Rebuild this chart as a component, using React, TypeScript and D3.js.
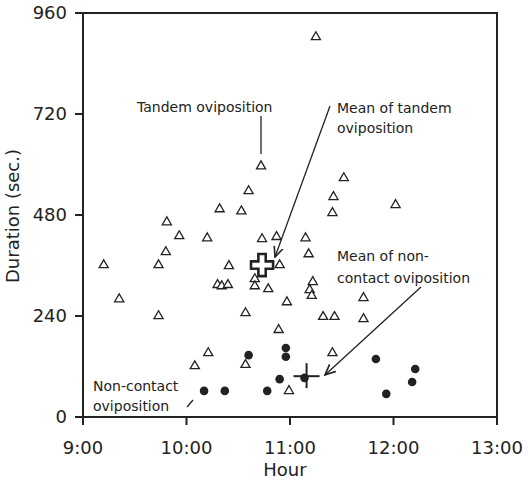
import React from 'react';
import * as d3 from 'd3';

// tandem oviposition: [hour, duration in sec.]
const tandemHours = [11.25, 10.72, 10.6, 10.32, 10.53, 9.81, 9.93, 10.2, 10.73, 10.87, 11.15, 11.18, 11.52, 11.42, 12.02, 11.41, 9.8, 9.2, 9.73, 10.41, 10.9, 10.3, 10.34, 10.4, 10.66, 10.66, 9.35, 9.73, 10.57, 10.79, 10.97, 10.89, 11.22, 11.19, 11.21, 11.32, 11.43, 11.71, 11.71, 11.41, 10.08, 10.21, 10.57, 10.99];
const tandemDurations = [903, 596, 537, 494, 489, 463, 430, 425, 423, 428, 425, 387, 568, 523, 504, 485, 392, 361, 361, 359, 361, 314, 311, 314, 328, 311, 280, 240, 247, 304, 273, 207, 321, 302, 288, 238, 238, 283, 233, 152, 121, 152, 124, 62];

// non-contact oviposition
const nonContactHours = [10.17, 10.37, 10.6, 10.96, 10.96, 10.9, 10.78, 11.14, 11.83, 11.93, 12.21, 12.18];
const nonContactDurations = [62, 62, 147, 164, 143, 90, 62, 93, 138, 55, 114, 83];

const tandemMean = [10.73, 361];
const nonContactMean = [11.16, 97];

const xTicks = [9, 10, 11, 12, 13];
const xTickLabels = ['9:00', '10:00', '11:00', '12:00', '13:00'];
const yTicks = [0, 240, 480, 720, 960];

const W = 528;
const H = 481;
const margin = { top: 13, right: 31, bottom: 64, left: 83 };
const ink = '#222';
const font = '"DejaVu Sans", sans-serif';

export default function App() {
  const x = d3.scaleLinear().domain([9, 13]).range([margin.left, W - margin.right]);
  const y = d3.scaleLinear().domain([0, 960]).range([H - margin.bottom, margin.top]);

  const triangle = d3.symbol(d3.symbolTriangle, 36)();
  const bigCross = d3.symbol(d3.symbolCross, 270)();

  const bottom = H - margin.bottom;

  return (
    <svg width={W} height={H} style={{ position: 'absolute', left: 0, top: 0, background: '#fff' }} fontFamily={font}>
      <defs>
        <marker id="arrow" viewBox="0 0 10 10" refX="9" refY="5" markerWidth="9" markerHeight="9" orient="auto">
          <path d="M0,1 L9,5 L0,9" fill="none" stroke={ink} strokeWidth="1.4" />
        </marker>
      </defs>

      {/* frame */}
      <rect x={margin.left} y={margin.top} width={W - margin.left - margin.right} height={bottom - margin.top}
        fill="none" stroke={ink} strokeWidth={2} />

      {/* y axis */}
      {yTicks.map(t => (
        <g key={'y' + t}>
          <line x1={margin.left - 8} x2={margin.left} y1={y(t)} y2={y(t)} stroke={ink} strokeWidth={2} />
          <text x={margin.left - 16} y={y(t)} dy="0.36em" textAnchor="end" fontSize={18} fill={ink}>{t}</text>
        </g>
      ))}

      {/* x axis */}
      {xTicks.map((t, i) => (
        <g key={'x' + t}>
          <line x1={x(t)} x2={x(t)} y1={bottom} y2={bottom + 8} stroke={ink} strokeWidth={2} />
          <text x={x(t)} y={bottom + 37} textAnchor="middle" fontSize={18} fill={ink}>{xTickLabels[i]}</text>
        </g>
      ))}

      <text x={285} y={476} textAnchor="middle" fontSize={18} fill={ink}>Hour</text>
      <text transform="translate(19,216) rotate(-90)" textAnchor="middle" fontSize={18} fill={ink}>Duration (sec.)</text>

      {/* annotations */}
      <text x={137} y={112} fontSize={14} fill={ink}>Tandem oviposition</text>
      <line x1={261} x2={261} y1={116} y2={154} stroke={ink} strokeWidth={1.3} />

      <text x={337} y={113} fontSize={14} fill={ink}>Mean of tandem</text>
      <text x={337} y={133} fontSize={14} fill={ink}>oviposition</text>
      <line x1={330} y1={106} x2={275} y2={257} stroke={ink} strokeWidth={1.3} markerEnd="url(#arrow)" />

      <text x={337} y={261} fontSize={14} fill={ink}>Mean of non-</text>
      <text x={337} y={283} fontSize={14} fill={ink}>contact oviposition</text>
      <line x1={421} y1={287} x2={325} y2={375} stroke={ink} strokeWidth={1.3} markerEnd="url(#arrow)" />

      <text x={93} y={391} fontSize={14} fill={ink}>Non-contact</text>
      <text x={93} y={411} fontSize={14} fill={ink}>oviposition</text>
      <line x1={187} y1={407} x2={193} y2={400} stroke={ink} strokeWidth={1.3} />

      {/* tandem points */}
      {tandemHours.map((h, i) => (
        <path key={'t' + i} d={triangle} transform={`translate(${x(h)},${y(tandemDurations[i])})`}
          fill="#fff" stroke={ink} strokeWidth={1.3} />
      ))}

      {/* non-contact points */}
      {nonContactHours.map((h, i) => (
        <circle key={'n' + i} cx={x(h)} cy={y(nonContactDurations[i])} r={4.3} fill={ink} />
      ))}

      {/* means */}
      <path d={bigCross} transform={`translate(${x(tandemMean[0])},${y(tandemMean[1])})`}
        fill="#fff" stroke={ink} strokeWidth={2.6} />
      <g transform={`translate(${x(nonContactMean[0])},${y(nonContactMean[1])})`} stroke={ink} strokeWidth={2}>
        <line x1={-13} x2={13} y1={0} y2={0} />
        <line x1={0} x2={0} y1={-13} y2={12} />
      </g>
    </svg>
  );
}
